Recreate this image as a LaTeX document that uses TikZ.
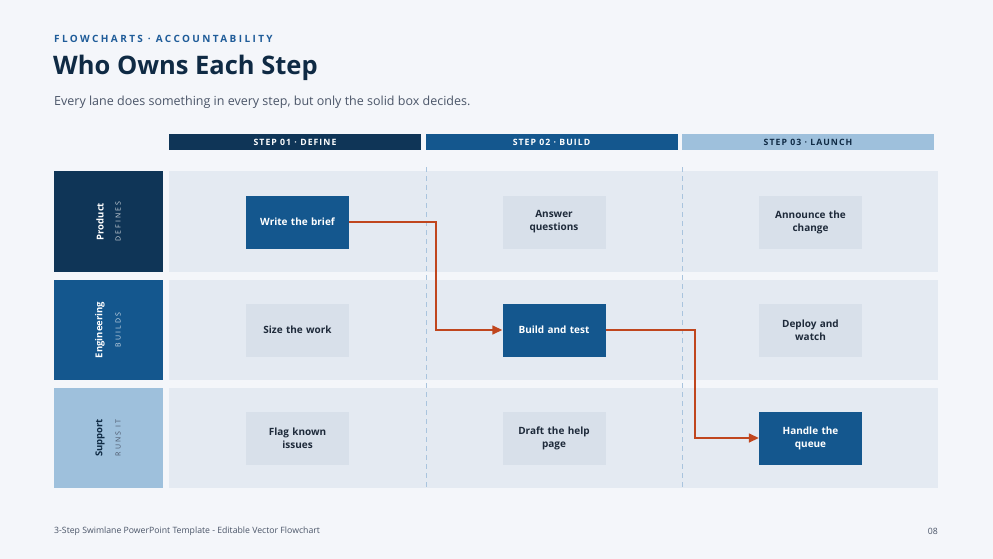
\documentclass[tikz,border=0pt]{standalone}
\usepackage{fontspec}
\setmainfont{Open Sans}
\usetikzlibrary{arrows.meta}
\definecolor{pagebg}{HTML}{F4F6FA}
\definecolor{navy}{HTML}{0F3557}
\definecolor{midblue}{HTML}{14578E}
\definecolor{lightblue}{HTML}{9EC0DC}
\definecolor{lanebg}{HTML}{E4EAF2}
\definecolor{softbox}{HTML}{D8E0EA}
\definecolor{titlecol}{HTML}{0F2A44}
\definecolor{eyebrow}{HTML}{1F5C99}
\definecolor{subcol}{HTML}{4A5568}
\definecolor{flowcol}{HTML}{C0461E}
\definecolor{dashcol}{HTML}{A9C4DE}
\definecolor{boxtext}{HTML}{1E2A3A}
\tikzset{
  x=1pt, y=-1pt,
  header/.style={minimum width=252pt, minimum height=16pt, inner sep=0pt, font=\bfseries\fontsize{8.7}{9}\selectfont\addfontfeatures{LetterSpace=12}},
  laneleft/.style={minimum width=109pt, minimum height=101pt, inner sep=0pt},
  laneback/.style={fill=lanebg, draw=none},
  softstep/.style={fill=softbox, minimum width=103pt, minimum height=53pt, inner sep=2pt, align=center, text width=97pt, font=\bfseries\fontsize{10}{13}\selectfont, text=boxtext},
  solidstep/.style={softstep, fill=midblue, text=white},
  lanename/.style={rotate=90, inner sep=0pt, font=\bfseries\fontsize{9.5}{10}\selectfont},
  lanerole/.style={rotate=90, inner sep=0pt, font=\fontsize{7}{8}\selectfont\addfontfeatures{LetterSpace=30}},
  flow/.style={draw=flowcol, line width=1.5pt, -{Triangle[length=10pt,width=9pt]}},
  lanedash/.style={draw=dashcol, line width=1pt, dash pattern=on 5pt off 4pt}
}
\begin{document}
\begin{tikzpicture}
\fill[pagebg] (0,0) rectangle (993,559);
\useasboundingbox (0,0) rectangle (993,559);
% titles
\node[anchor=west, inner sep=0pt, text=eyebrow, font=\bfseries\fontsize{10}{11}\selectfont\addfontfeatures{LetterSpace=24}] (eyebrowtxt) at (54,39) {FLOWCHARTS · ACCOUNTABILITY};
\node[anchor=west, inner sep=0pt, text=titlecol, font=\bfseries\fontsize{25.5}{28}\selectfont] (title) at (53,68) {Who Owns Each Step};
\node[anchor=west, inner sep=0pt, text=subcol, font=\fontsize{12.5}{14}\selectfont] (subtitle) at (54,102) {Every lane does something in every step, but only the solid box decides.};
% headers
\node[header, fill=navy, text=white] (h1) at (295,142) {STEP 01 · DEFINE};
\node[header, fill=midblue, text=white] (h2) at (551.5,142) {STEP 02 · BUILD};
\node[header, fill=lightblue, text=titlecol] (h3) at (808,142) {STEP 03 · LAUNCH};
% lane backgrounds
\fill[laneback] (169,171) rectangle (938,272);
\fill[laneback] (169,280) rectangle (938,380);
\fill[laneback] (169,388) rectangle (938,488);
% lane labels
\node[laneleft, fill=navy] (l1) at (108.5,221.5) {};
\node[laneleft, fill=midblue, minimum height=100pt] (l2) at (108.5,330) {};
\node[laneleft, fill=lightblue, minimum height=100pt] (l3) at (108.5,438) {};
\node[lanename, text=white] (l1a) at (100,221.5) {Product};
\node[lanerole, text=white!80!navy] (l1b) at (118,221.5) {DEFINES};
\node[lanename, text=white] (l2a) at (100,330) {Engineering};
\node[lanerole, text=white!80!midblue] (l2b) at (118,330) {BUILDS};
\node[lanename, text=titlecol] (l3a) at (100,438) {Support};
\node[lanerole, text=subcol] (l3b) at (118,438) {RUNS IT};
% dashed separators
\coordinate (d1t) at (426,167); \coordinate (d1b) at (426,490);
\coordinate (d2t) at (682,167); \coordinate (d2b) at (682,490);
\draw[lanedash] (d1t) -- (d1b);
\draw[lanedash] (d2t) -- (d2b);
% step boxes
\node[solidstep] (brief) at (297.5,222) {Write the brief};
\node[softstep] (answer) at (554,222) {Answer\\questions};
\node[softstep] (announce) at (810.5,222) {Announce the\\change};
\node[softstep] (size) at (297.5,330) {Size the work};
\node[solidstep] (build) at (554,330) {Build and test};
\node[softstep] (deploy) at (810.5,330) {Deploy and\\watch};
\node[softstep] (flag) at (297.5,438) {Flag known\\issues};
\node[softstep] (draft) at (554,438) {Draft the help\\page};
\node[solidstep] (queue) at (810.5,438) {Handle the\\queue};
% flow
\draw[flow] (brief.east) -- (436,222) |- (build.west);
\draw[flow] (build.east) -- (695,330) |- (queue.west);
% footer
\node[anchor=west, inner sep=0pt, text=subcol, font=\fontsize{8.7}{10}\selectfont] (footer) at (54,531) {3-Step Swimlane PowerPoint Template - Editable Vector Flowchart};
\node[anchor=east, inner sep=0pt, text=subcol, font=\fontsize{8.7}{10}\selectfont] (pagenum) at (938,531) {08};
\end{tikzpicture}
\end{document}
